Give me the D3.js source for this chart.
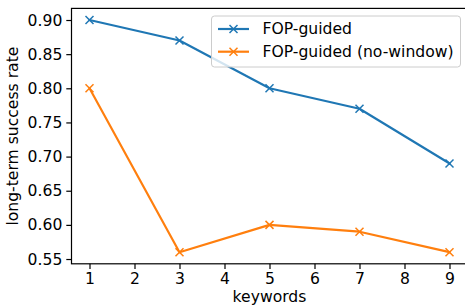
<!DOCTYPE html>
<html><head><meta charset="utf-8">
<script src="https://cdn.jsdelivr.net/npm/d3@7"></script>
<style>body{margin:0;background:#fff}svg{display:block}</style>
</head><body>
<script>
const keywords = [1, 3, 5, 7, 9];
const fopGuided = [0.90, 0.87, 0.80, 0.77, 0.69];
const fopNoWindow = [0.80, 0.56, 0.60, 0.59, 0.56];
const xTicks = [1, 2, 3, 4, 5, 6, 7, 8, 9];
const yTicks = [0.55, 0.60, 0.65, 0.70, 0.75, 0.80, 0.85, 0.90];
const seriesNames = ["FOP-guided", "FOP-guided (no-window)"];
const colors = ["#1f77b4", "#ff7f0e"];

const W = 465, H = 307;
const L = 71.5, R = 467.5, T = 8.4, B = 263.8;
const font = "'DejaVu Sans', sans-serif";
const fs = 15.6;
const ink = "#000";

const svg = d3.select("body").append("svg").attr("width", W).attr("height", H);
const x = d3.scaleLinear().domain([0.6, 9.4]).range([L, R]);
const y = d3.scaleLinear().domain([0.543, 0.917]).range([B, T]);

// lines
const series = [fopGuided, fopNoWindow];
const line = d3.line().x((d, i) => x(keywords[i])).y(d => y(d));
series.forEach((s, k) => {
  svg.append("path").attr("d", line(s)).attr("fill", "none")
    .attr("stroke", colors[k]).attr("stroke-width", 2.2).attr("stroke-linejoin", "round").attr("stroke-linecap", "square");
  const m = 4;
  svg.append("g").selectAll("path").data(s).join("path")
    .attr("d", (d, i) => {
      const cx = x(keywords[i]), cy = y(d);
      return `M${cx - m},${cy - m}L${cx + m},${cy + m}M${cx - m},${cy + m}L${cx + m},${cy - m}`;
    })
    .attr("stroke", colors[k]).attr("stroke-width", 1.5).attr("fill", "none");
});

// axes
const xAxis = d3.axisBottom(x).tickValues(xTicks).tickFormat(d3.format("d")).tickSize(5.2).tickPadding(4);
const yAxis = d3.axisLeft(y).tickValues(yTicks).tickFormat(d3.format(".2f")).tickSize(5.2).tickPadding(4);
const gx = svg.append("g").attr("transform", `translate(0,${B})`).call(xAxis);
const gy = svg.append("g").attr("transform", `translate(${L},0)`).call(yAxis);
[gx, gy].forEach(g => {
  g.select(".domain").remove();
  g.selectAll(".tick line").attr("stroke", ink).attr("stroke-width", 1.2);
  g.selectAll(".tick text").attr("fill", ink).style("font-family", font).style("font-size", fs + "px");
});
// spines
svg.append("rect").attr("x", L).attr("y", T).attr("width", R - L).attr("height", B - T)
  .attr("fill", "none").attr("stroke", ink).attr("stroke-width", 1.2);

// axis labels
svg.append("text").attr("x", (L + R) / 2).attr("y", 302).attr("text-anchor", "middle")
  .style("font-family", font).style("font-size", fs + "px").attr("fill", ink).text("keywords");
svg.append("text").attr("transform", `translate(18,${(T + B) / 2}) rotate(-90)`).attr("text-anchor", "middle")
  .style("font-family", font).style("font-size", fs + "px").attr("fill", ink).text("long-term success rate");

// legend
const lg = svg.append("g");
lg.append("rect").attr("x", 211.5).attr("y", 16).attr("width", 249).attr("height", 51).attr("rx", 3)
  .attr("fill", "#fff").attr("fill-opacity", 0.8).attr("stroke", "#cccccc").attr("stroke-width", 1);
seriesNames.forEach((name, k) => {
  const yy = 29 + k * 22.7;
  lg.append("line").attr("x1", 218).attr("x2", 249).attr("y1", yy).attr("y2", yy)
    .attr("stroke", colors[k]).attr("stroke-width", 2.2);
  const m = 4, cx = 233.5;
  lg.append("path").attr("d", `M${cx - m},${yy - m}L${cx + m},${yy + m}M${cx - m},${yy + m}L${cx + m},${yy - m}`)
    .attr("stroke", colors[k]).attr("stroke-width", 1.5);
  lg.append("text").attr("x", 262.5).attr("y", yy + 5).style("font-family", font).style("font-size", fs + "px")
    .attr("fill", ink).text(name);
});
</script>
</body></html>
